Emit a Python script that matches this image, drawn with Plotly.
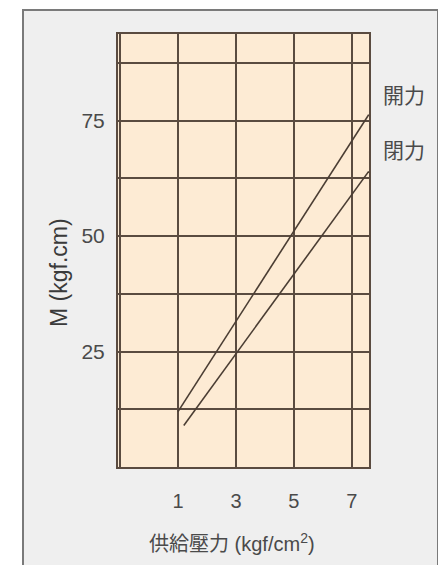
import plotly.graph_objects as go

# Data
open_x = [1.0, 7.58]
open_y = [12.0, 76.3]
close_x = [1.2, 7.58]
close_y = [9.0, 64.0]
x_ticks = [1, 3, 5, 7]
x_grid = [-1, 1, 3, 5, 7]
y_grid = [12.5, 25, 37.5, 50, 62.5, 75, 87.5]
y_labels = ["", "25", "", "50", "", "75", ""]
series_names = ["開力", "閉力"]

OFF = 8  # default page body margin
W, H = 446 - OFF, 573 - 2 * OFF
L, R, T, B = 118 - OFF, 369 - OFF, 34 - OFF, 467 - OFF
pw, ph = R - L, B - T

def px(x):
    return (x - OFF - L) / pw

def py(y):
    return (B - (y - OFF)) / ph

line_col = "#4a3d33"
grid_col = "#5a4b40"
txt_col = "#4a4a4a"
fam = "Liberation Sans, Noto Sans CJK JP, sans-serif"

fig = go.Figure()
fig.add_trace(go.Scatter(x=open_x, y=open_y, mode="lines",
                         line=dict(color=line_col, width=1.6), name=series_names[0]))
fig.add_trace(go.Scatter(x=close_x, y=close_y, mode="lines",
                         line=dict(color=line_col, width=1.6), name=series_names[1]))

fig.update_layout(
    width=W, height=H,
    margin=dict(l=L, r=W - R, t=T, b=H - B, pad=0),
    paper_bgcolor="white",
    plot_bgcolor="#fdebd4",
    showlegend=False,
    font=dict(family=fam, color=txt_col),
    shapes=[
        dict(type="rect", xref="paper", yref="paper", layer="below",
             x0=px(23), x1=px(438), y0=py(572), y1=py(10),
             fillcolor="#efefef", line=dict(color="#7a7a7a", width=2)),
        dict(type="rect", xref="paper", yref="paper", layer="below",
             x0=0, x1=1, y0=0, y1=1,
             fillcolor="#fdebd4", line=dict(width=0)),
    ],
)

fig.update_xaxes(range=[-1.07, 7.59], tickvals=x_grid,
                 ticktext=[""] + [str(v) for v in x_ticks],
                 showgrid=True, gridcolor=grid_col, gridwidth=2,
                 showline=True, linecolor=grid_col, linewidth=2, mirror=True,
                 zeroline=False, ticks="", ticklabelstandoff=15,
                 tickfont=dict(size=20, color=txt_col, family=fam))
fig.update_yaxes(range=[0, 93.75], tickvals=y_grid, ticktext=y_labels,
                 showgrid=True, gridcolor=grid_col, gridwidth=2,
                 showline=True, linecolor=grid_col, linewidth=2, mirror=True,
                 zeroline=False, ticks="", ticklabelstandoff=7,
                 tickfont=dict(size=21, color=txt_col, family=fam))

annos = [
    dict(text=series_names[0], x=px(404), y=py(95)),
    dict(text=series_names[1], x=px(404), y=py(150)),
]
for a in annos:
    fig.add_annotation(xref="paper", yref="paper", x=a["x"], y=a["y"], text=a["text"],
                       showarrow=False, xanchor="center", yanchor="middle",
                       font=dict(size=21, color=txt_col, family=fam))

fig.add_annotation(xref="paper", yref="paper", x=px(232), y=py(542),
                   text="供給壓力 (kgf/cm<sup>2</sup>)", showarrow=False,
                   xanchor="center", yanchor="middle",
                   font=dict(size=20, color=txt_col, family=fam))
fig.add_annotation(xref="paper", yref="paper", x=px(59), y=py(273),
                   text="M (kgf.cm)", showarrow=False, textangle=-90,
                   xanchor="center", yanchor="middle",
                   font=dict(size=23, color="#3a3a3a", family=fam))

fig.write_html("out.html")
